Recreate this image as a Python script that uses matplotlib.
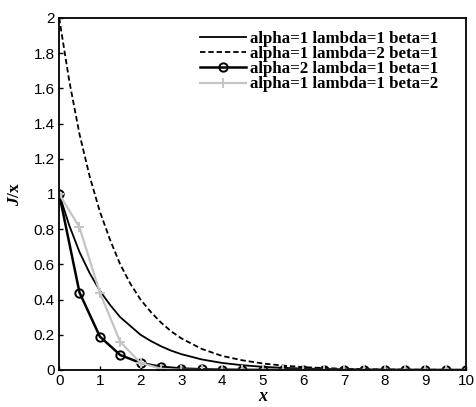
import numpy as np
import matplotlib
matplotlib.use("Agg")
import matplotlib.pyplot as plt
from matplotlib.ticker import FuncFormatter

plt.rcParams["mathtext.fontset"] = "custom"
plt.rcParams["mathtext.bfit"] = "Liberation Serif:bold:italic"

# ---- data ----
x_fine = [0, 0.25, 0.5, 0.75, 1, 1.25, 1.5, 1.75, 2, 2.25, 2.5, 2.75, 3,
          3.5, 4, 4.5, 5, 5.5, 6, 6.5, 7, 7.5, 8, 8.5, 9, 9.5, 10]
y_a1l1b1 = [1.0, 0.82, 0.67, 0.55, 0.45, 0.37, 0.30, 0.25, 0.20, 0.165, 0.135,
            0.11, 0.09, 0.06, 0.04, 0.027, 0.018, 0.012, 0.008, 0.006, 0.004,
            0.0025, 0.0017, 0.001, 0.0007, 0.0005, 0.0003]
y_a1l2b1 = [2.0, 1.64, 1.34, 1.10, 0.90, 0.74, 0.60, 0.49, 0.40, 0.33, 0.27,
            0.22, 0.18, 0.12, 0.08, 0.055, 0.037, 0.025, 0.016, 0.011, 0.007,
            0.005, 0.003, 0.002, 0.0015, 0.001, 0.0007]

x_coarse = [0, 0.5, 1, 1.5, 2, 2.5, 3, 3.5, 4, 4.5, 5, 5.5, 6, 6.5, 7,
            7.5, 8, 8.5, 9, 9.5, 10]
y_a2l1b1 = [1.0, 0.44, 0.19, 0.085, 0.04, 0.018, 0.008, 0.004, 0.002, 0.001,
            0.0005, 0.0003, 0.0001, 0, 0, 0, 0, 0, 0, 0, 0]
y_a1l1b2 = [1.0, 0.81, 0.44, 0.16, 0.04, 0.007, 0.0007, 0, 0, 0, 0, 0, 0,
            0, 0, 0, 0, 0, 0, 0, 0]

labels = ["alpha=1 lambda=1 beta=1", "alpha=1 lambda=2 beta=1",
          "alpha=2 lambda=1 beta=1", "alpha=1 lambda=1 beta=2"]

# ---- figure ----
fig = plt.figure(figsize=(4.77, 4.07), dpi=100)
ax = fig.add_axes([0.124, 0.091, 0.853, 0.865])

ax.plot(x_fine, y_a1l1b1, color="black", lw=1.3, label=labels[0])
ax.plot(x_fine, y_a1l2b1, color="black", lw=1.3, ls=(0, (3, 1.6)), label=labels[1])
ax.plot(x_coarse, y_a2l1b1, color="black", lw=1.8, marker="o", ms=6,
        mfc="none", mew=1.4, label=labels[2])
ax.plot(x_coarse, y_a1l1b2, color="#c4c4c4", lw=1.6, marker="+", ms=7,
        mew=1.4, label=labels[3])

ax.set_xlim(0, 10)
ax.set_ylim(0, 2)
ax.set_xticks(np.arange(0, 11, 1))
ax.set_yticks(np.arange(0, 2.01, 0.2))
ax.yaxis.set_major_formatter(FuncFormatter(lambda v, p: f"{v:g}"))
ax.tick_params(direction="in", length=3, width=1, labelsize=11,
               top=False, right=False, pad=3)
for lab in ax.get_xticklabels() + ax.get_yticklabels():
    lab.set_family("Liberation Sans")
for s in ax.spines.values():
    s.set_linewidth(1.3)

ax.set_xlabel("x", fontsize=13, family="Liberation Serif", style="italic",
              weight="bold", labelpad=0)
ax.set_ylabel(r"$\mathbfit{J}$/x", fontsize=12.5, family="Liberation Serif",
              weight="bold", labelpad=8)

leg = ax.legend(loc="upper right", frameon=False,
                prop={"family": "Liberation Serif", "weight": "bold", "size": 12.2},
                handlelength=2.7, labelspacing=-0.05, handletextpad=0.25,
                borderaxespad=0.0, bbox_to_anchor=(0.948, 0.982))

fig.savefig("out.png", dpi=100)
